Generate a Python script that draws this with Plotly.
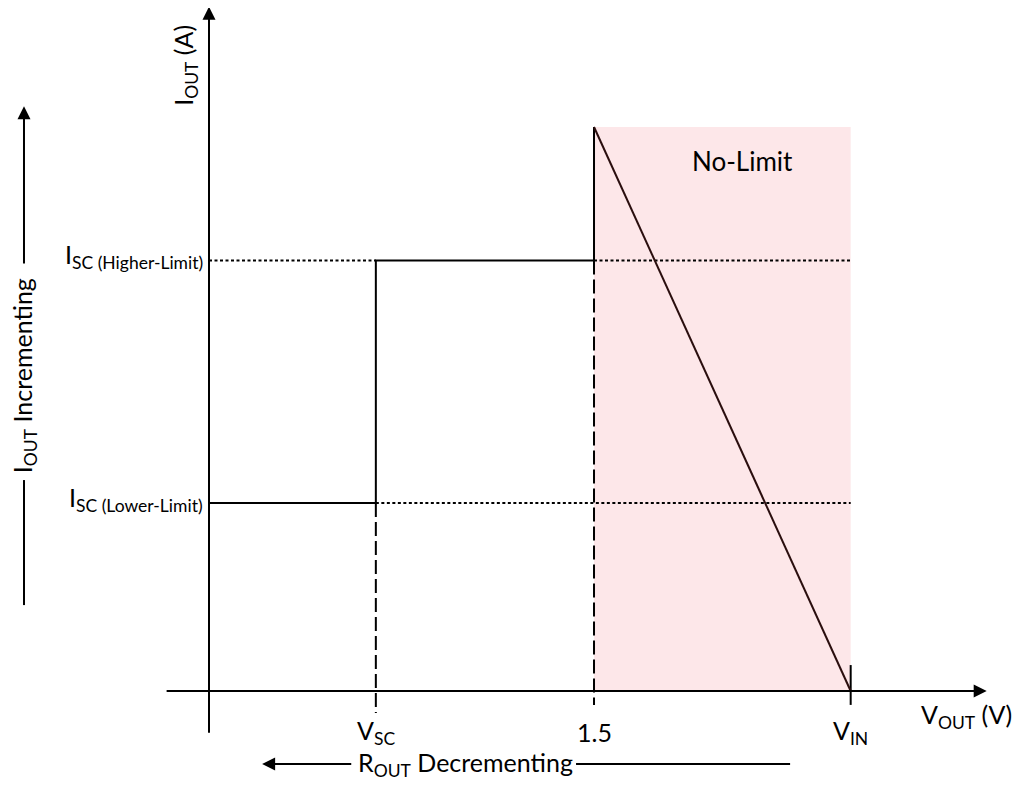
import plotly.graph_objects as go

# ---- data (schematic values) ----
V_SC = 0.65
V_LIMIT = 1.5
V_IN = 2.5
I_LOW = 1.0
I_HIGH = 2.29
I_MAX = 3.0

x_tick_vals = [V_SC, V_LIMIT, V_IN]
x_tick_text = ["V<sub>SC</sub>", "1.5", "V<sub>IN</sub>"]
y_tick_vals = [I_HIGH, I_LOW]
y_tick_text = ["I<sub>SC (Higher-Limit)</sub>", "I<sub>SC (Lower-Limit)</sub>"]

FONT = "Lato, Open Sans, sans-serif"
FS = 25
BLACK = "#000000"
DIAG = "#2a0e0e"
PINK = "rgb(253,231,233)"

fig = go.Figure()

# No-limit region
fig.add_trace(go.Scatter(x=[V_LIMIT, V_IN, V_IN, V_LIMIT, V_LIMIT],
                         y=[0, 0, I_MAX, I_MAX, 0], fill="toself",
                         fillcolor=PINK, line=dict(width=0), mode="lines",
                         hoverinfo="skip"))

# dotted limit lines
DOT = dict(color=BLACK, width=1.8, dash="3px,2.5px")
fig.add_trace(go.Scatter(x=[0, V_SC], y=[I_HIGH, I_HIGH], mode="lines", line=DOT))
fig.add_trace(go.Scatter(x=[V_LIMIT, V_IN], y=[I_HIGH, I_HIGH], mode="lines", line=DOT))
fig.add_trace(go.Scatter(x=[V_SC, V_IN], y=[I_LOW, I_LOW], mode="lines", line=DOT))

# dashed verticals
DASH = dict(color=BLACK, width=2, dash="14px,5px")
fig.add_trace(go.Scatter(x=[V_SC, V_SC], y=[I_LOW, -0.117], mode="lines", line=DASH))
fig.add_trace(go.Scatter(x=[V_LIMIT, V_LIMIT], y=[I_HIGH, -0.074], mode="lines", line=DASH))
# V_IN tick
fig.add_trace(go.Scatter(x=[V_IN, V_IN], y=[0.138, -0.074], mode="lines",
                         line=dict(color=BLACK, width=2)))

# current-limit characteristic
fig.add_trace(go.Scatter(x=[0, V_SC, V_SC, V_LIMIT, V_LIMIT],
                         y=[I_LOW, I_LOW, I_HIGH, I_HIGH, I_MAX], mode="lines",
                         line=dict(color=BLACK, width=2)))
fig.add_trace(go.Scatter(x=[V_LIMIT, V_IN], y=[I_MAX, 0], mode="lines",
                         line=dict(color=DIAG, width=2)))

ARW = dict(showarrow=True, arrowhead=2, arrowsize=1.3, arrowwidth=2,
           arrowcolor=BLACK, text="", xref="x", yref="y", axref="x", ayref="y")
TXT = dict(xref="x", yref="y", showarrow=False)

ann = []
# axes with arrows
ann.append(dict(x=0, y=3.64, ax=0, ay=-0.23, **ARW))
ann.append(dict(x=3.03, y=0, ax=-0.171, ay=0, **ARW))

# tick labels
for xv, t in zip(x_tick_vals, x_tick_text):
    ann.append(dict(x=xv, y=-0.218, text=t, font=dict(size=FS, family=FONT, color=BLACK), **TXT))
for yv, t in zip(y_tick_vals, y_tick_text):
    ann.append(dict(x=-0.016, y=yv, text=t, xanchor="right", yshift=4,
                    font=dict(size=FS, family=FONT, color=BLACK), **TXT))

ann.append(dict(x=2.95, y=-0.133, text="V<sub>OUT</sub> (V)",
                font=dict(size=FS, family=FONT, color=BLACK), **TXT))
ann.append(dict(x=-0.094, y=3.33, text="I<sub>OUT</sub> (A)", textangle=-90,
                font=dict(size=FS, family=FONT, color=BLACK), **TXT))
ann.append(dict(x=2.08, y=2.82, text="No-Limit",
                font=dict(size=26, family=FONT, color=BLACK), **TXT))

# left "I_OUT Incrementing" indicator
LX = -0.7208
ann.append(dict(x=LX, y=3.11, ax=LX, ay=2.266, **ARW))
ann.append(dict(x=LX, y=1.68, text="I<sub>OUT</sub> Incrementing", textangle=-90,
                font=dict(size=FS, family=FONT, color=BLACK), **TXT))
fig.add_trace(go.Scatter(x=[LX, LX], y=[1.122, 0.457], mode="lines",
                         line=dict(color=BLACK, width=2)))

# bottom "R_OUT Decrementing" indicator
BY = -0.388
ann.append(dict(x=0.207, y=BY, ax=0.56, ay=BY, **ARW))
ann.append(dict(x=1.0, y=BY, text="R<sub>OUT</sub> Decrementing",
                font=dict(size=FS, family=FONT, color=BLACK), **TXT))
fig.add_trace(go.Scatter(x=[1.43, 2.264], y=[BY, BY], mode="lines",
                         line=dict(color=BLACK, width=2)))

# page offset (body margin 8px) compensated in the ranges
PX_X = 256.67
PX_Y = 188.0
fig.update_layout(
    width=1021, height=804, margin=dict(l=0, r=0, t=0, b=0),
    paper_bgcolor="white", plot_bgcolor="white", showlegend=False,
    xaxis=dict(range=[(8 - 209) / PX_X, (1029 - 209) / PX_X], visible=False, fixedrange=True),
    yaxis=dict(range=[(691 - 812) / PX_Y, (691 - 8) / PX_Y], visible=False, fixedrange=True),
    annotations=ann,
)
fig.write_html("out.html")
